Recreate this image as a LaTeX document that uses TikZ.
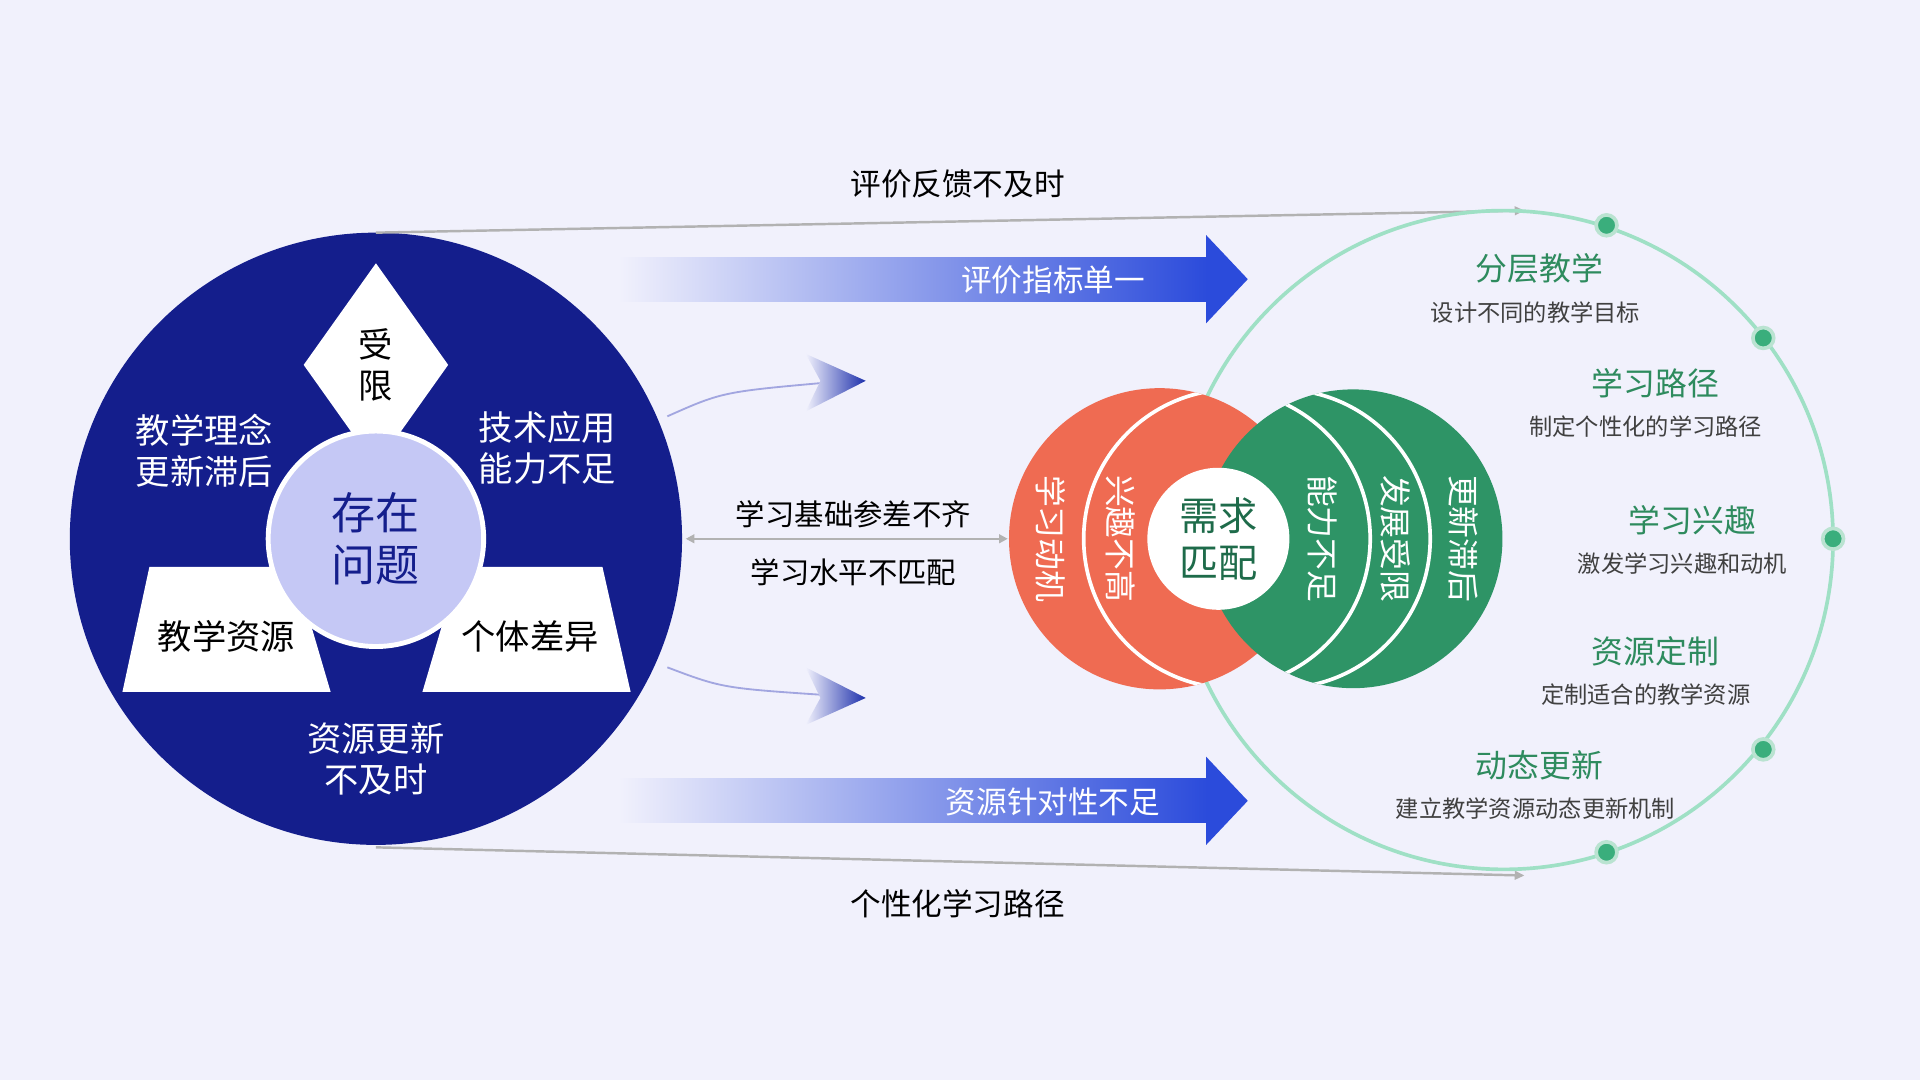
\documentclass[tikz,border=0pt]{standalone}
\usepackage{fontspec}
\setmainfont{Noto Sans CJK SC}
\usetikzlibrary{arrows.meta}
\definecolor{bg}{HTML}{F1F1FC}
\definecolor{navy}{HTML}{141E8C}
\definecolor{lav}{HTML}{C5C8F5}
\definecolor{ared}{HTML}{EF6B52}
\definecolor{agreen}{HTML}{2E9466}
\definecolor{dgreen}{HTML}{1E6B4A}
\definecolor{tgreen}{HTML}{2E8B5E}
\definecolor{ring}{HTML}{9FE0C5}
\definecolor{dot}{HTML}{3AAE7C}
\definecolor{ablue}{HTML}{2B4BDB}
\begin{document}
\begin{tikzpicture}[x=1pt,y=-1pt,
  fs/.style={font=\fontsize{#1pt}{1.2\dimexpr #1pt\relax}\selectfont},
  wt/.style={fs=28,text=white,align=center},
  bt/.style={fs=24,text=black,align=center},
  rt/.style={fs=26,text=white,rotate=-90},
  ht/.style={fs=26,text=tgreen},
  st/.style={fs=19,text=black!75},
  gl/.style={draw=black!30,line width=2pt,-{Triangle[length=8pt,width=7pt]}},
  dt/.style={circle,fill=dot,draw=dot!35,line width=3pt,minimum size=17pt,inner sep=0pt}]
\fill[bg] (0,0) rectangle (1568,882);
\useasboundingbox (0,0) rectangle (1568,882);
% left big circle
\fill[navy] (307,440) circle (250);
\fill[white] (307,215) -- (366,298) -- (307,381) -- (248,298) -- cycle;
\fill[white] (122,463) -- (240,463) -- (270,565) -- (100,565) -- cycle;
\fill[white] (375,463) -- (492,463) -- (515,565) -- (345,565) -- cycle;
\node[circle,fill=lav,draw=white,line width=4pt,minimum size=176pt,fs=36,text=navy,align=center] (core) at (307,440) {存在\\问题};
\node[fs=28,align=center] (sx) at (307,298) {受\\限};
\node[fs=28] (jx) at (185,520) {教学资源};
\node[fs=28] (gt) at (433,520) {个体差异};
\node[wt] (ln) at (167,368) {教学理念\\更新滞后};
\node[wt] (js) at (447,366) {技术应用\\能力不足};
\node[wt] (zy) at (307,620) {资源更新\\不及时};
% gray lines
\coordinate (lt) at (307,190); \coordinate (rt1) at (1245,172);
\coordinate (lb) at (307,692); \coordinate (rb) at (1245,715);
\draw[gl] (lt) -- (rt1);
\draw[gl] (lb) -- (rb);
\node[fs=25] (l1) at (782,150) {评价反馈不及时};
\node[fs=25] (l2) at (782,738) {个性化学习路径};
% blue arrows
\shade[left color=bg,right color=ablue] (505,210) rectangle (986,246);
\fill[ablue] (985,192) -- (1019,228) -- (985,264) -- cycle;
\node[fs=25,text=white] (a1) at (860,229) {评价指标单一};
\shade[left color=bg,right color=ablue] (505,636) rectangle (986,672);
\fill[ablue] (985,618) -- (1019,654) -- (985,690) -- cycle;
\node[fs=25,text=white] (a2) at (860,655) {资源针对性不足};
% small arrows
\coordinate (s1) at (545,340); \coordinate (e1) at (680,312);
\coordinate (s2) at (545,545); \coordinate (e2) at (680,568);
\draw[lav!80!navy,line width=1.5pt] (s1) .. controls (590,320) .. (e1);
\draw[lav!80!navy,line width=1.5pt] (s2) .. controls (590,562) .. (e2);
\shade[left color=bg,right color=navy!60!ablue] (658,289) -- (707,311) -- (658,336) -- (670,311) -- cycle;
\shade[left color=bg,right color=navy!60!ablue] (658,545) -- (707,570) -- (658,592) -- (670,570) -- cycle;
% double arrow
\coordinate (d1) at (560,440); \coordinate (d2) at (823,440);
\draw[black!30,line width=2pt,{Triangle[length=7pt,width=7pt]}-{Triangle[length=7pt,width=7pt]}] (d1) -- (d2);
\node[bt] (b1) at (697,420) {学习基础参差不齐};
\node[bt] (b2) at (697,467) {学习水平不匹配};
% ring
\draw[ring,line width=3pt] (1228,441) circle (269);
% venn
\fill[ared] (947,440) circle (123);
\begin{scope}
\clip (947,440) circle (123);
\draw[white,line width=3pt] (1007,440) circle (122);
\end{scope}
\fill[agreen] (1105,440) circle (122);
\begin{scope}
\clip (1105,440) circle (122);
\draw[white,line width=3pt] (997,440) circle (122);
\draw[white,line width=3pt] (1046,440) circle (122);
\end{scope}
\node[circle,fill=white,minimum size=116pt,fs=32,text=dgreen,align=center,inner sep=0pt] (xq) at (995,440) {需求\\匹配};
\node[rt] (r1) at (858,440) {学习动机};
\node[rt] (r2) at (915,440) {兴趣不高};
\node[rt] (g1) at (1080,440) {能力不足};
\node[rt] (g2) at (1140,440) {发展受限};
\node[rt] (g3) at (1195,440) {更新滞后};
% dots
\node[dt] (p1) at (1312,184) {};
\node[dt] (p2) at (1440,276) {};
\node[dt] (p3) at (1497,440) {};
\node[dt] (p4) at (1440,612) {};
\node[dt] (p5) at (1312,696) {};
% labels
\node[ht] (h1) at (1257,219) {分层教学};
\node[st] (t1) at (1254,255) {设计不同的教学目标};
\node[ht] (h2) at (1352,313) {学习路径};
\node[st] (t2) at (1344,348) {制定个性化的学习路径};
\node[ht] (h3) at (1382,425) {学习兴趣};
\node[st] (t3) at (1374,460) {激发学习兴趣和动机};
\node[ht] (h4) at (1352,532) {资源定制};
\node[st] (t4) at (1344,567) {定制适合的教学资源};
\node[ht] (h5) at (1257,625) {动态更新};
\node[st] (t5) at (1254,660) {建立教学资源动态更新机制};
\end{tikzpicture}
\end{document}
